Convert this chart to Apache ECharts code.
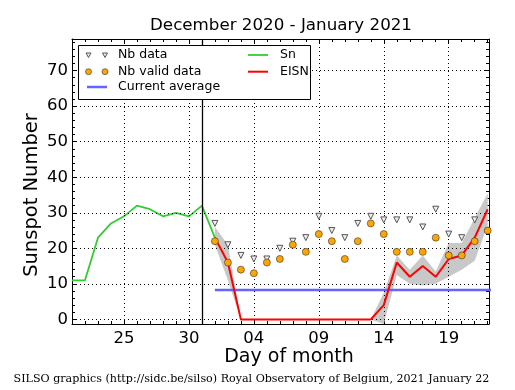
<!DOCTYPE html>
<html><head><meta charset="utf-8">
<script src="https://cdn.jsdelivr.net/npm/echarts@6/dist/echarts.min.js"></script>
<style>html,body{margin:0;padding:0;background:#fff}#c{width:515px;height:390px}</style>
</head><body><div id="c"></div>
<script>
// x = day index, 0 = 2020-12-21
const xTickDays = [4, 9, 14, 19, 24, 29];
const xTickLabels = ['25', '30', '04', '09', '14', '19'];
const yTickValues = [0, 10, 20, 30, 40, 50, 60, 70];

// Sn (Dec 21 .. Jan 1)
const snStartDay = 0;
const snValues = [11, 11, 23, 27, 29, 32, 31, 29, 30, 29, 32, 23];

// EISN and its band (Jan 1 .. Jan 22)
const eisnStartDay = 11;
const eisnValues = [23, 16, 0, 0, 0, 0, 0, 0, 0, 0, 0, 0, 0, 4, 16, 12, 15, 12, 17, 18, 23, 31];
const eisnUpper  = [26, 21, 0, 0, 0, 0, 0, 0, 0, 0, 0, 0, 0, 7.5, 18, 14, 18, 13.5, 21.5, 21.5, 28.5, 35.5];
const eisnLower  = [21, 11, 0, 0, 0, 0, 0, 0, 0, 0, 0, 0, 0, -1.5, 12.5, 10, 9.5, 10, 12, 14, 16.5, 26.5];

// station counts (Jan 1 .. Jan 22)
const nbData  = [27, 21, 18, 17, 17, 20, 22, 23, 29, 25, 23, 27, 29, 28, 28, 28, 26, 31, 24, 23, 28, null];
const nbValid = [22, 16, 14, 13, 16, 17, 21, 19, 24, 22, 17, 22, 27, 24, 19, 19, 19, 23, 18, 18, 22, 25];

// current average
const currentAverage = 8.3;
const avgStartDay = 11;
const avgEndDay = 33;

const separatorDay = 10;

const xMin = 0, xMax = 32.1, yMin = -1.3, yMax = 78.9;

const xMinor = []; for (let d = 0; d <= 32; d++) xMinor.push(d);
const yMinor = []; for (let v = 0; v <= 78; v += 2) yMinor.push(v);

const FONT = 'DejaVu Sans';

function xAx(pos, vals, len, showLabel, showLine) {
  return {
    type: 'value', position: pos, min: xMin, max: xMax,
    axisLine: { show: showLine, onZero: false, lineStyle: { color: '#000', width: 1 } },
    axisTick: { show: true, inside: true, length: len, customValues: vals, lineStyle: { color: '#000', width: 1 } },
    axisLabel: { show: showLabel, customValues: vals, color: '#000', fontFamily: FONT, fontSize: 16.5, margin: 6,
      formatter: function (v) { const k = xTickDays.indexOf(Math.round(v)); return k >= 0 ? xTickLabels[k] : ''; } },
    splitLine: { show: false }
  };
}
function yAx(pos, vals, len, showLabel, showLine) {
  return {
    type: 'value', position: pos, min: yMin, max: yMax,
    axisLine: { show: showLine, onZero: false, lineStyle: { color: '#000', width: 1 } },
    axisTick: { show: true, inside: true, length: len, customValues: vals, lineStyle: { color: '#000', width: 1 } },
    axisLabel: { show: showLabel, customValues: vals, color: '#000', fontFamily: FONT, fontSize: 16.5, margin: 4 },
    splitLine: { show: false }
  };
}

const toXY = (start) => (v, i) => [start + i, v];

const gridMarks = [];
xTickDays.forEach(d => gridMarks.push({ xAxis: d }));
yTickValues.forEach(v => gridMarks.push({ yAxis: v }));

const chart = echarts.init(document.getElementById('c'), null, { renderer: 'canvas' });
chart.setOption({
  animation: false,
  backgroundColor: '#fff',
  grid: { left: 72, right: 26, top: 39, bottom: 66, containLabel: false },
  xAxis: [
    xAx('bottom', xTickDays, 5, true, true),
    xAx('bottom', xMinor, 3, false, false),
    xAx('top', xTickDays, 5, false, true),
    xAx('top', xMinor, 3, false, false)
  ],
  yAxis: [
    yAx('left', yTickValues, 5, true, true),
    yAx('left', yMinor, 3, false, false),
    yAx('right', yTickValues, 5, false, true),
    yAx('right', yMinor, 3, false, false)
  ],
  series: [
    { name: 'grid', type: 'line', data: [], z: 1, silent: true,
      markLine: { silent: true, symbol: ['none', 'none'], label: { show: false }, animation: false,
        lineStyle: { color: '#000', type: [1, 3], width: 1 }, emphasis: { disabled: true }, data: gridMarks } },
    { name: 'band', type: 'custom', z: 2, silent: true,
      data: eisnUpper.map((v, i) => [eisnStartDay + i, eisnLower[i], v]),
      encode: { x: 0, y: [1, 2] },
      renderItem: function (params, api) {
        if (params.dataIndex !== 0) return null;
        const pts = [];
        for (let i = 0; i < eisnUpper.length; i++) pts.push(api.coord([eisnStartDay + i, eisnUpper[i]]));
        for (let i = eisnLower.length - 1; i >= 0; i--) pts.push(api.coord([eisnStartDay + i, eisnLower[i]]));
        const cs = params.coordSys;
        return { type: 'polygon',
          shape: { points: echarts.graphic.clipPointsByRect(pts, { x: cs.x, y: cs.y, width: cs.width, height: cs.height }) },
          style: { fill: '#c8c8c8' } };
      } },
    { name: 'Current average', type: 'line', z: 3, symbol: 'none', silent: true,
      data: [[avgStartDay, currentAverage], [avgEndDay, currentAverage]],
      lineStyle: { color: '#6464ff', width: 2.5 } },
    { name: 'Sn', type: 'line', z: 4, symbol: 'none', silent: true,
      data: snValues.map(toXY(snStartDay)), lineStyle: { color: '#33cc33', width: 1.8 } },
    { name: 'EISN', type: 'line', z: 5, symbol: 'none', silent: true,
      data: eisnValues.map(toXY(eisnStartDay)), lineStyle: { color: '#ff0000', width: 2 } },
    { name: 'Nb data', type: 'scatter', z: 6, silent: true, symbol: 'triangle', symbolRotate: 180, symbolSize: 6,
      data: nbData.map(toXY(eisnStartDay)).filter(p => p[1] !== null),
      itemStyle: { color: '#eeeeee', borderColor: '#555555', borderWidth: 1, opacity: 1 } },
    { name: 'Nb valid data', type: 'scatter', z: 7, silent: true, symbol: 'circle', symbolSize: 7,
      data: nbValid.map(toXY(eisnStartDay)),
      itemStyle: { color: '#ffa500', borderColor: '#333333', borderWidth: 0.6, opacity: 1 } },
    { name: 'sep', type: 'line', data: [], z: 8, silent: true,
      markLine: { silent: true, symbol: ['none', 'none'], label: { show: false }, animation: false,
        lineStyle: { color: '#000', type: 'solid', width: 1.3 }, emphasis: { disabled: true },
        data: [{ xAxis: separatorDay }] } }
  ],
  graphic: [
    { type: 'text', x: 281, y: 26, z: 100, style: { text: 'December 2020 - January 2021', font: '16.7px "DejaVu Sans"', textAlign: 'center', textVerticalAlign: 'middle', fill: '#000' } },
    { type: 'text', x: 32, y: 195, rotation: Math.PI / 2, z: 100, style: { text: 'Sunspot Number', font: '19.5px "DejaVu Sans"', textAlign: 'center', textVerticalAlign: 'middle', fill: '#000' } },
    { type: 'text', x: 289, y: 357, z: 100, style: { text: 'Day of month', font: '19px "DejaVu Sans"', textAlign: 'center', textVerticalAlign: 'middle', fill: '#000' } },
    { type: 'text', x: 251.5, y: 379.5, z: 100, style: { text: 'SILSO graphics (http://sidc.be/silso) Royal Observatory of Belgium, 2021 January 22', font: '11.1px "DejaVu Serif"', textAlign: 'center', textVerticalAlign: 'middle', fill: '#000' } },
    { type: 'group', z: 100, children: [
      { type: 'rect', z: 100, shape: { x: 78.5, y: 45.5, width: 232, height: 54 }, style: { fill: '#fff', stroke: '#000', lineWidth: 1 } },
      { type: 'polygon', z: 101, shape: { points: [[86, 53], [91, 53], [88.5, 57.5]] }, style: { fill: '#eeeeee', stroke: '#555', lineWidth: 1 } },
      { type: 'polygon', z: 101, shape: { points: [[102.5, 53], [107.5, 53], [105, 57.5]] }, style: { fill: '#eeeeee', stroke: '#555', lineWidth: 1 } },
      { type: 'circle', z: 101, shape: { cx: 88.5, cy: 71.7, r: 3 }, style: { fill: '#ffa500', stroke: '#333', lineWidth: 0.6 } },
      { type: 'circle', z: 101, shape: { cx: 105, cy: 71.7, r: 3 }, style: { fill: '#ffa500', stroke: '#333', lineWidth: 0.6 } },
      { type: 'line', z: 101, shape: { x1: 87, y1: 87, x2: 107, y2: 87 }, style: { stroke: '#6464ff', lineWidth: 2.5 } },
      { type: 'line', z: 101, shape: { x1: 248, y1: 55, x2: 268, y2: 55 }, style: { stroke: '#33cc33', lineWidth: 1.8 } },
      { type: 'line', z: 101, shape: { x1: 248, y1: 71.7, x2: 268, y2: 71.7 }, style: { stroke: '#ff0000', lineWidth: 2 } },
      { type: 'text', z: 101, x: 118, y: 55, style: { text: 'Nb data', font: '12.5px "DejaVu Sans"', textVerticalAlign: 'middle', fill: '#000' } },
      { type: 'text', z: 101, x: 118, y: 71.7, style: { text: 'Nb valid data', font: '12.5px "DejaVu Sans"', textVerticalAlign: 'middle', fill: '#000' } },
      { type: 'text', z: 101, x: 118, y: 87, style: { text: 'Current average', font: '12.5px "DejaVu Sans"', textVerticalAlign: 'middle', fill: '#000' } },
      { type: 'text', z: 101, x: 280, y: 55, style: { text: 'Sn', font: '12.5px "DejaVu Sans"', textVerticalAlign: 'middle', fill: '#000' } },
      { type: 'text', z: 101, x: 280, y: 71.7, style: { text: 'EISN', font: '12.5px "DejaVu Sans"', textVerticalAlign: 'middle', fill: '#000' } }
    ] }
  ]
});
</script>
</body></html>
